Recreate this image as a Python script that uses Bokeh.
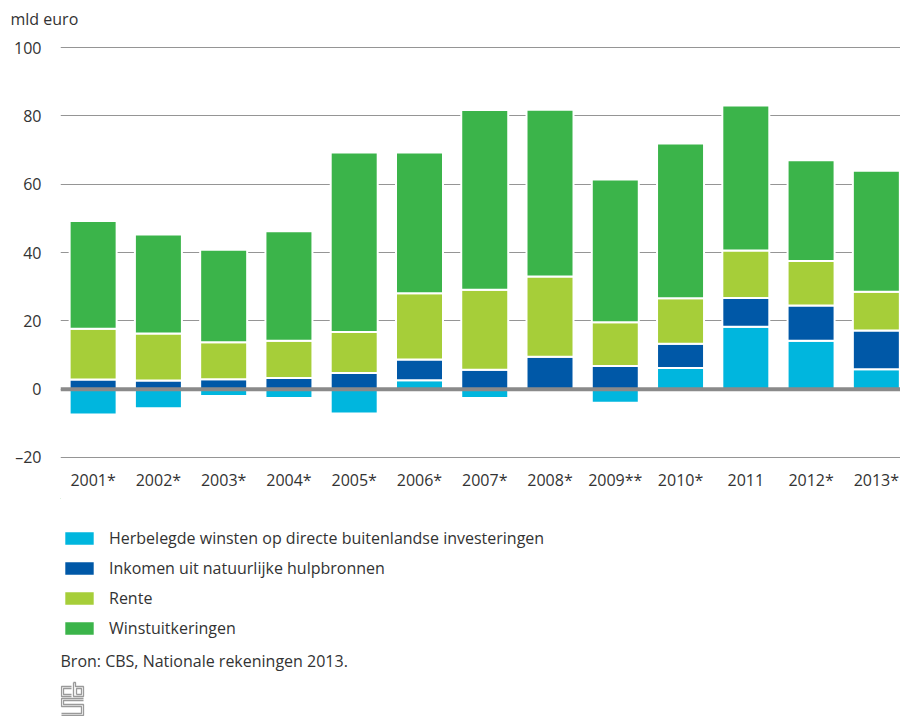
import numpy as np
from bokeh.plotting import figure
from bokeh.models import (Range1d, FixedTicker, Span, Label, Legend, LegendItem,
                          ColumnDataSource, Title)
from bokeh.layouts import column
from bokeh.embed import file_html
from bokeh.resources import INLINE

# ---------------- data (mld euro) ----------------
years = ["2001*", "2002*", "2003*", "2004*", "2005*", "2006*", "2007*",
         "2008*", "2009**", "2010*", "2011", "2012*", "2013*"]
herbelegd = [-7.4, -5.6, -2.0, -2.6, -7.1, 2.6, -2.6, 0.0, -4.0, 6.2, 18.3, 14.2, 5.8]
natuur = [2.8, 2.5, 2.9, 3.3, 4.7, 6.1, 5.7, 9.5, 6.8, 7.1, 8.4, 10.3, 11.4]
rente = [14.9, 13.8, 10.8, 10.9, 12.0, 19.4, 23.4, 23.5, 12.8, 13.3, 13.9, 13.0, 11.3]
winst = [31.5, 29.0, 27.1, 32.0, 52.6, 41.2, 52.6, 48.8, 41.8, 45.3, 42.4, 29.5, 35.4]

y_ticks = [-20, 0, 20, 40, 60, 80, 100]
y_tick_labels = ["\u201320", "0", "20", "40", "60", "80", "100"]

series_names = ["Herbelegde winsten op directe buitenlandse investeringen",
                "Inkomen uit natuurlijke hulpbronnen",
                "Rente",
                "Winstuitkeringen"]
colors = ["#00b6de", "#0058a7", "#a6ce39", "#3bb44a"]

unit_label = "mld euro"
source_text = "Bron: CBS, Nationale rekeningen 2013."

FONT = "Open Sans"
TXT = "#333333"
W = 900
LEFT = 60

# ---------------- stacking ----------------
x = np.arange(len(years))
h = np.array(herbelegd)
pos_h = np.clip(h, 0, None)
b_h, t_h = np.minimum(h, 0), np.maximum(h, 0)
b_n = pos_h
t_n = b_n + np.array(natuur)
b_r = t_n
t_r = b_r + np.array(rente)
b_w = t_r
t_w = b_w + np.array(winst)

src = ColumnDataSource(dict(x=x, b_h=b_h, t_h=t_h, b_n=b_n, t_n=t_n,
                            b_r=b_r, t_r=t_r, b_w=b_w, t_w=t_w))
stack_cols = [("b_h", "t_h"), ("b_n", "t_n"), ("b_r", "t_r"), ("b_w", "t_w")]

# ---------------- main chart ----------------
TOPB = 46
FRAME_H = 412
BOT = 40
p = figure(x_range=Range1d(-0.5, 12.37), y_range=Range1d(-20.3, 100.3),
           frame_width=W - LEFT, frame_height=FRAME_H,
           min_border_left=LEFT, min_border_right=0, min_border_top=TOPB,
           min_border_bottom=BOT, title=unit_label,
           output_backend="svg", toolbar_location=None, tools="")
p.outline_line_color = None
p.background_fill_color = "white"
p.border_fill_color = "white"
p.title.align = "left"
p.title.offset = -50
p.title.standoff = 0
p.title.text_font = FONT
p.title.text_font_size = "16px"
p.title.text_font_style = "normal"
p.title.text_color = TXT
# thin empty spacer between the unit title and the plot area
p.add_layout(Title(text=" ", text_font_size="4px", standoff=10), "above")

p.xgrid.visible = False
p.ygrid.ticker = FixedTicker(ticks=y_ticks)
p.ygrid.grid_line_color = "#959595"
p.ygrid.grid_line_width = 1

for (bk, tk), col in zip(stack_cols, colors):
    p.vbar(x="x", width=0.72, bottom=bk, top=tk, source=src,
           fill_color=col, line_color="white", line_width=2)

p.add_layout(Span(location=0, dimension="width", line_color="#8a8a8a",
                  line_width=4, level="overlay"))

p.yaxis.ticker = FixedTicker(ticks=y_ticks)
p.yaxis.major_label_overrides = dict(zip(y_ticks, y_tick_labels))
p.xaxis.ticker = FixedTicker(ticks=list(x))
p.xaxis.major_label_overrides = {int(i): yr for i, yr in zip(x, years)}
for ax in (p.xaxis, p.yaxis):
    ax.axis_line_color = None
    ax.major_tick_line_color = None
    ax.minor_tick_line_color = None
    ax.major_label_text_font = FONT
    ax.major_label_text_font_size = "16px"
    ax.major_label_text_color = TXT
p.yaxis.major_label_standoff = 13
p.xaxis.major_label_standoff = 4

# ---------------- legend / source / logo ----------------
TOP = TOPB + FRAME_H + BOT
LG_H = 716 - TOP
lg = figure(width=W, height=LG_H, x_range=Range1d(LEFT, W), y_range=Range1d(716, TOP),
            x_axis_type=None, y_axis_type=None,
            min_border=0, min_border_left=LEFT,
            output_backend="svg", toolbar_location=None, tools="")
lg.grid.visible = False
lg.outline_line_color = None
lg.background_fill_color = "white"
lg.border_fill_color = "white"

# same series, drawn here only to provide the legend swatches (outside the visible range)
swatches = [lg.vbar(x="x", width=0.72, bottom=bk, top=tk, source=src,
                    fill_color=c, line_color="white", line_width=2)
            for (bk, tk), c in zip(stack_cols, colors)]
legend = Legend(items=[LegendItem(label=n, renderers=[r]) for n, r in zip(series_names, swatches)],
                location=(0, 77), orientation="vertical",
                glyph_width=38, glyph_height=18, label_height=22, spacing=8,
                label_standoff=11, label_text_font=FONT, label_text_font_size="16px",
                label_text_color=TXT, border_line_color=None,
                background_fill_alpha=0, margin=0, padding=0)
lg.add_layout(legend, "center")

lg.add_layout(Label(x=LEFT, y=660, text=source_text, text_font=FONT, text_font_size="16px",
                    text_color=TXT, text_baseline="middle"))

# CBS logo outline (drawing, page pixel offsets)
LX, LB = 61, 716
logo_xs = [[10, 0, 0, 10], [10, 2, 2, 10],
           [12, 12, 22, 22, 14, 14, 12], [15, 20, 20, 15, 15],
           [22, 0, 0, 20, 20, 0], [22, 2, 2, 22, 22, 0]]
logo_ys = [[20, 20, 30, 30], [22, 22, 28, 28],
           [34, 20, 20, 30, 30, 34, 34], [22, 22, 28, 28, 22],
           [18, 18, 10, 10, 3, 3], [16, 16, 12, 12, 1, 1]]
lg.multi_line(xs=[[LX + v for v in row] for row in logo_xs],
              ys=[[LB - v for v in row] for row in logo_ys],
              line_color="#9a9a9a", line_width=1.3)

layout = column(p, lg, spacing=0)
open("out.html", "w").write(file_html(layout, INLINE))
